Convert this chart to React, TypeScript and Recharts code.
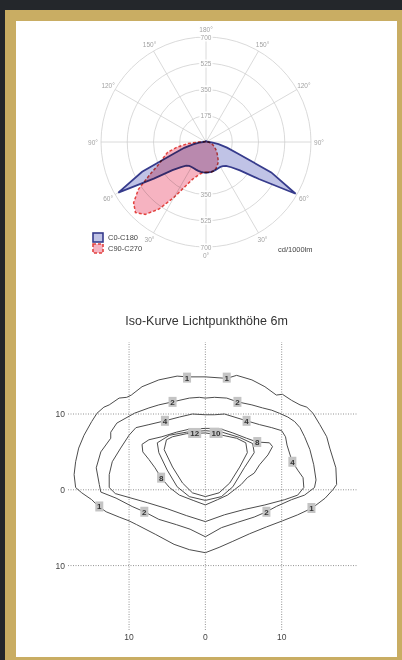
import React from 'react';
import {
  RadarChart, Radar, PolarGrid, PolarAngleAxis, PolarRadiusAxis, Legend,
  ComposedChart, Line, Scatter, XAxis, YAxis, ReferenceLine,
} from 'recharts';

const FONT = '"Liberation Sans", Arial, Helvetica, sans-serif';

// ---- polar diagram (cd/1000lm) ----
// gamma every 5°: right half from 0° (bottom) up to 180° (top), then left half back down
const GAMMA = [
  0, 5, 10, 15, 20, 25, 30, 35, 40, 45, 50, 55, 60, 65, 70, 75, 80, 85, 90, 95, 100, 105, 110, 115, 120,
  125, 130, 135, 140, 145, 150, 155, 160, 165, 170, 175, 180,
  175, 170, 165, 160, 155, 150, 145, 140, 135, 130, 125, 120, 115, 110, 105, 100, 95, 90, 85, 80, 75,
  70, 65, 60, 55, 50, 45, 40, 35, 30, 25, 20, 15, 10, 5,
];
const C0_C180 = [
  205, 204, 202, 199, 196, 193, 192, 196, 208, 238, 295, 430, 690, 480, 225, 145, 85, 45, 18, 10, 8, 7, 7, 6, 6,
  6, 6, 6, 6, 6, 6, 6, 6, 6, 6, 6, 6,
  6, 6, 6, 6, 6, 6, 6, 6, 6, 6, 6, 6, 6, 7, 7, 8, 10, 18, 45, 88, 150,
  230, 470, 675, 425, 292, 236, 206, 195, 192, 193, 196, 199, 202, 204,
];
const C90_C270 = [
  200, 203, 204, 200, 190, 176, 160, 140, 120, 104, 90, 76, 64, 54, 45, 36, 28, 20, 14, 10, 8, 7, 6, 6, 6,
  6, 6, 6, 6, 6, 6, 6, 6, 6, 6, 6, 6,
  6, 6, 6, 6, 6, 6, 6, 6, 6, 6, 6, 6, 6, 7, 7, 9, 18, 50, 120, 195, 265,
  300, 345, 430, 550, 630, 665, 630, 545, 425, 325, 265, 235, 215, 205,
];
const INTENSITY_TICKS = [175, 350, 525, 700];

const SERIES = [
  { key: 'c0', name: 'C0-C180', fill: '#c0c3e6', stroke: '#363b8c', dash: undefined as string | undefined },
  { key: 'c90', name: 'C90-C270', fill: '#f6b3c1', stroke: '#e2433f', dash: '3 2' },
];

const polarData = GAMMA.map((g, i) => ({ key: i, gamma: g, c0: C0_C180[i], c90: C90_C270[i] }));
const STEP = 360 / GAMMA.length;
const GRID_ANGLES = GAMMA.map((g, i) => (g % 30 === 0 ? -90 + i * STEP : null)).filter((a) => a !== null) as number[];

const CX = 190;
const CY = 121;

// ---- iso lux curves, metres ----
const ISO_1 = [
  [0, 14.9], [2.8, 14.7], [4.1, 15.1], [6.1, 14.5], [7.8, 13.6], [9.3, 12.5], [10.1, 12.6], [11.3, 11.8],
  [12.4, 11.2], [13.3, 10.9], [14.1, 10.1], [15.0, 8.6], [15.9, 7.0], [16.3, 5.5], [17.1, 2.9], [17.2, 0.7],
  [16.7, 0], [15.7, -1.1], [14.0, -2.4], [12.1, -3.3], [10.1, -4.1], [8.0, -4.9], [5.8, -5.8], [3.6, -6.8],
  [1.8, -7.6], [0, -8.3], [-2.1, -7.9], [-4.1, -7.2], [-6.5, -5.9], [-9.0, -4.6], [-10.0, -4.1], [-11.3, -3.6],
  [-13.0, -2.9], [-14.0, -2.2], [-14.9, -1.3], [-16.2, -0.4], [-17.0, 0.3], [-17.2, 2.0], [-17.0, 3.7],
  [-16.6, 5.5], [-15.9, 7.2], [-14.9, 9.0], [-14.2, 10.1], [-13.3, 10.9], [-12.6, 11.2], [-11.3, 12.1],
  [-10.3, 12.2], [-9.7, 12.5], [-8.3, 13.6], [-6.1, 14.5], [-3.7, 15.0], [-2.4, 14.9], [0, 14.9],
];
const ISO_2 = [
  [0, 12.1], [1.2, 12.2], [2.8, 12.1], [4.2, 11.6], [6.1, 11.2], [7.5, 10.8], [8.7, 10.5], [9.7, 10.1],
  [10.8, 9.6], [11.7, 9.0], [12.4, 8.2], [13.0, 7.0], [13.7, 5.3], [14.2, 3.3], [14.5, 1.3], [14.3, 0.3],
  [13.0, -0.7], [11.3, -1.3], [9.3, -2.2], [8.0, -2.9], [6.4, -3.6], [4.2, -4.3], [2.1, -5.0], [0, -6.2],
  [-2.0, -5.2], [-3.8, -4.6], [-6.1, -3.9], [-8.0, -2.9], [-9.6, -2.2], [-11.7, -1.1], [-13.7, -0.3],
  [-13.9, 0.7], [-14.3, 2.9], [-13.7, 5.0], [-12.4, 6.8], [-12.4, 7.6], [-11.6, 8.8], [-9.3, 10.1],
  [-7.4, 10.8], [-6.1, 11.2], [-4.3, 11.6], [-2.1, 12.1], [-0.8, 12.2], [0, 12.1],
];
const ISO_4 = [
  [0, 9.9], [1.2, 9.9], [2.5, 10.0], [5.4, 9.1], [7.1, 8.6], [8.7, 8.2], [10.0, 7.8], [10.5, 7.0],
  [10.7, 5.9], [11.1, 4.6], [11.4, 3.7], [12.1, 2.6], [12.8, 1.6], [12.9, 0.3], [12.1, -0.7], [10.4, -1.3],
  [7.8, -2.0], [5.1, -2.6], [2.5, -3.3], [0, -4.2], [-2.5, -3.4], [-5.0, -2.5], [-7.6, -1.7], [-10.4, -0.9],
  [-11.8, -0.5], [-12.6, 0.3], [-12.6, 2.0], [-12.2, 3.7], [-11.1, 5.5], [-10.0, 7.2], [-9.1, 8.2],
  [-7.4, 8.6], [-5.3, 9.1], [-3.4, 9.6], [-1.7, 10.0], [0, 9.9],
];
const ISO_8 = [
  [0, 8.1], [1.8, 8.1], [3.6, 7.5], [5.4, 6.8], [6.8, 6.3], [8.4, 6.2], [8.8, 5.7], [8.2, 4.6], [7.1, 3.3],
  [6.4, 2.2], [5.5, 1.6], [4.7, 0.7], [3.8, 0.0], [2.9, -0.7], [1.6, -1.3], [0, -2.0], [-1.6, -1.4],
  [-3.4, -0.7], [-4.7, 0.3], [-5.8, 1.6], [-6.6, 2.9], [-7.4, 4.0], [-8.2, 5.0], [-8.3, 6.0], [-7.4, 6.6],
  [-5.7, 7.0], [-3.8, 7.6], [-2.1, 8.0], [0, 8.1],
];
const ISO_10 = [
  [0, 7.8], [2.2, 7.6], [4.5, 6.9], [6.2, 6.1], [6.4, 4.9], [5.1, 2.9], [3.6, 0.4], [2.1, -0.9], [0, -1.4],
  [-2.1, -0.9], [-3.7, 0.4], [-5.0, 2.6], [-6.1, 4.9], [-6.3, 6.2], [-4.7, 7.2], [-2.5, 7.6], [0, 7.8],
];
const ISO_12 = [
  [0, 7.5], [2.2, 7.2], [4.1, 6.8], [5.3, 6.2], [5.5, 4.9], [4.5, 3.0], [3.2, 0.9], [1.8, -0.4], [0, -0.9],
  [-1.7, -0.4], [-3.0, 0.9], [-4.3, 3.0], [-5.4, 5.3], [-5.1, 6.6], [-4.3, 7.0], [-2.5, 7.4], [0, 7.5],
];
const ISO_CURVES = [ISO_1, ISO_2, ISO_4, ISO_8, ISO_10, ISO_12];

const ISO_LABELS = [
  { x: -2.4, y: 14.8, text: '1' }, { x: 2.8, y: 14.8, text: '1' },
  { x: -13.9, y: -2.2, text: '1' }, { x: 13.9, y: -2.4, text: '1' },
  { x: -4.3, y: 11.6, text: '2' }, { x: 4.2, y: 11.6, text: '2' },
  { x: -8.0, y: -2.9, text: '2' }, { x: 8.0, y: -2.9, text: '2' },
  { x: -5.3, y: 9.1, text: '4' }, { x: 5.4, y: 9.1, text: '4' }, { x: 11.4, y: 3.7, text: '4' },
  { x: 6.8, y: 6.3, text: '8' }, { x: -5.8, y: 1.6, text: '8' },
  { x: -1.4, y: 7.5, text: '12' }, { x: 1.4, y: 7.5, text: '10' },
];
const METRE_TICKS = [-10, 0, 10];

// label the angle ticks by where they actually sit: gamma is measured from the nadir, both halves
const AngleTick = (props: any) => {
  const { x, y } = props;
  const r = Math.hypot(x - CX, y - CY);
  const g = (Math.acos((y - CY) / r) * 180) / Math.PI;
  const g30 = Math.round(g / 30) * 30;
  if (Math.abs(g - g30) > 1) return <g />;
  return (
    <text x={x} y={y} textAnchor="middle" dominantBaseline="central" fontSize={6.5} fill="#a3a3a3" fontFamily={FONT}>
      {g30}°
    </text>
  );
};

// the intensity scale is printed up and down the 180°/0° line (the lowest one is hidden under the curves)
const RadiusTick = (props: any) => {
  const { x, y, payload, index } = props;
  const common = {
    textAnchor: 'middle' as const, dominantBaseline: 'central' as const, fontSize: 6.5, fill: '#a3a3a3',
    fontFamily: FONT, stroke: '#fff', strokeWidth: 3, paintOrder: 'stroke' as const,
  };
  return (
    <g>
      <text x={x} y={y} {...common}>{payload.value}</text>
      {index > 0 && <text x={x} y={2 * CY - y} {...common}>{payload.value}</text>}
    </g>
  );
};

const PolarLegend = () => (
  <div style={{ fontFamily: FONT, fontSize: 7.5, color: '#444' }}>
    {SERIES.map((s) => (
      <div key={s.key} style={{ display: 'flex', alignItems: 'center', height: 11 }}>
        <svg width={12} height={11}>
          <rect x={1} y={1} width={10} height={9} fill={s.fill} stroke={s.stroke} strokeWidth={1.6} strokeDasharray={s.dash} />
        </svg>
        <span style={{ marginLeft: 4 }}>{s.name}</span>
      </div>
    ))}
  </div>
);

const IsoLabel = (props: any) => {
  const { cx, cy, payload } = props;
  const w = payload.text.length > 1 ? 13 : 8;
  return (
    <g>
      <rect x={cx - w / 2} y={cy - 5} width={w} height={10} fill="#c4c4c4" />
      <text x={cx} y={cy + 0.5} textAnchor="middle" dominantBaseline="central" fontSize={8} fontWeight="bold" fill="#333" fontFamily={FONT}>
        {payload.text}
      </text>
    </g>
  );
};

const YTick = (props: any) => (
  <text x={props.x + 5} y={props.y} textAnchor="end" dominantBaseline="central" fontSize={8.5} fill="#444" fontFamily={FONT}>
    {Math.abs(props.payload.value)}
  </text>
);

const XTick = (props: any) => (
  <text x={props.x} y={props.y - 1} textAnchor="middle" dominantBaseline="central" fontSize={8.5} fill="#444" fontFamily={FONT}>
    {Math.abs(props.payload.value)}
  </text>
);

const GRID_LINE = { stroke: '#777', strokeDasharray: '1 1.5', strokeWidth: 0.8 };

export default function App() {
  return (
    <div style={{ position: 'absolute', left: 0, top: 0, width: 402, height: 660, background: '#24272b', overflow: 'hidden' }}>
      <style>{'.radar-red { mix-blend-mode: multiply; }'}</style>
      <div style={{ position: 'absolute', left: 5, top: 10, width: 402, height: 655, background: '#c9ad63' }} />
      <div style={{ position: 'absolute', left: 16, top: 21, width: 381, height: 636, background: '#fff' }}>
        <div style={{ position: 'absolute', left: 0, top: 0 }}>
          <RadarChart
            width={381}
            height={270}
            data={polarData}
            cx={CX}
            cy={CY}
            outerRadius={105}
            startAngle={-90 - STEP}
            endAngle={270 - STEP}
            margin={{ top: 0, right: 0, bottom: 0, left: 0 }}
          >
            <PolarGrid gridType="circle" polarAngles={GRID_ANGLES} stroke="#d0d0d0" strokeWidth={0.8} />
            <PolarAngleAxis dataKey="key" tick={<AngleTick />} tickLine={false} axisLine={false} />
            <PolarRadiusAxis
              angle={90}
              domain={[0, 700]}
              ticks={INTENSITY_TICKS}
              type="number"
              axisLine={false}
              tick={<RadiusTick />}
            />
            {SERIES.map((s) => (
              <Radar
                key={s.key}
                name={s.name}
                dataKey={s.key}
                className={s.key === 'c90' ? 'radar-red' : undefined}
                fill={s.fill}
                fillOpacity={1}
                stroke={s.stroke}
                strokeWidth={s.dash ? 1.5 : 1.8}
                strokeDasharray={s.dash}
                dot={false}
                isAnimationActive={false}
              />
            ))}
            <Legend content={<PolarLegend />} wrapperStyle={{ left: 76, top: 211, width: 'auto', height: 'auto' }} />
          </RadarChart>
        </div>
        <div style={{ position: 'absolute', left: 262, top: 224, fontFamily: FONT, fontSize: 7.5, color: '#444', lineHeight: '9px' }}>
          cd/1000lm
        </div>
        <div style={{ position: 'absolute', left: 0, top: 292, width: 381, textAlign: 'center', fontFamily: FONT, fontSize: 12.5, lineHeight: '16px', color: '#333' }}>
          Iso-Kurve Lichtpunkthöhe 6m
        </div>
        <div style={{ position: 'absolute', left: 0, top: 309 }}>
          <ComposedChart width={381} height={320} margin={{ top: 12, right: 39, bottom: 0, left: 0 }}>
            <XAxis
              dataKey="x"
              type="number"
              domain={[-18, 20]}
              ticks={METRE_TICKS}
              allowDataOverflow
              axisLine={false}
              tickLine={false}
              height={20}
              tick={<XTick />}
            />
            <YAxis
              type="number"
              domain={[-18.5, 19.5]}
              ticks={METRE_TICKS}
              allowDataOverflow
              axisLine={false}
              tickLine={false}
              width={52}
              tick={<YTick />}
            />
            {METRE_TICKS.map((t) => <ReferenceLine key={`v${t}`} x={t} {...GRID_LINE} />)}
            {METRE_TICKS.map((t) => <ReferenceLine key={`h${t}`} y={t} {...GRID_LINE} />)}
            {ISO_CURVES.map((curve, i) => (
              <Line
                key={i}
                data={curve.map(([x, y]) => ({ x, y }))}
                dataKey="y"
                type="linear"
                stroke="#4d4d4d"
                strokeWidth={1}
                dot={false}
                activeDot={false}
                isAnimationActive={false}
              />
            ))}
            <Scatter data={ISO_LABELS} dataKey="y" shape={<IsoLabel />} isAnimationActive={false} />
          </ComposedChart>
        </div>
      </div>
    </div>
  );
}
